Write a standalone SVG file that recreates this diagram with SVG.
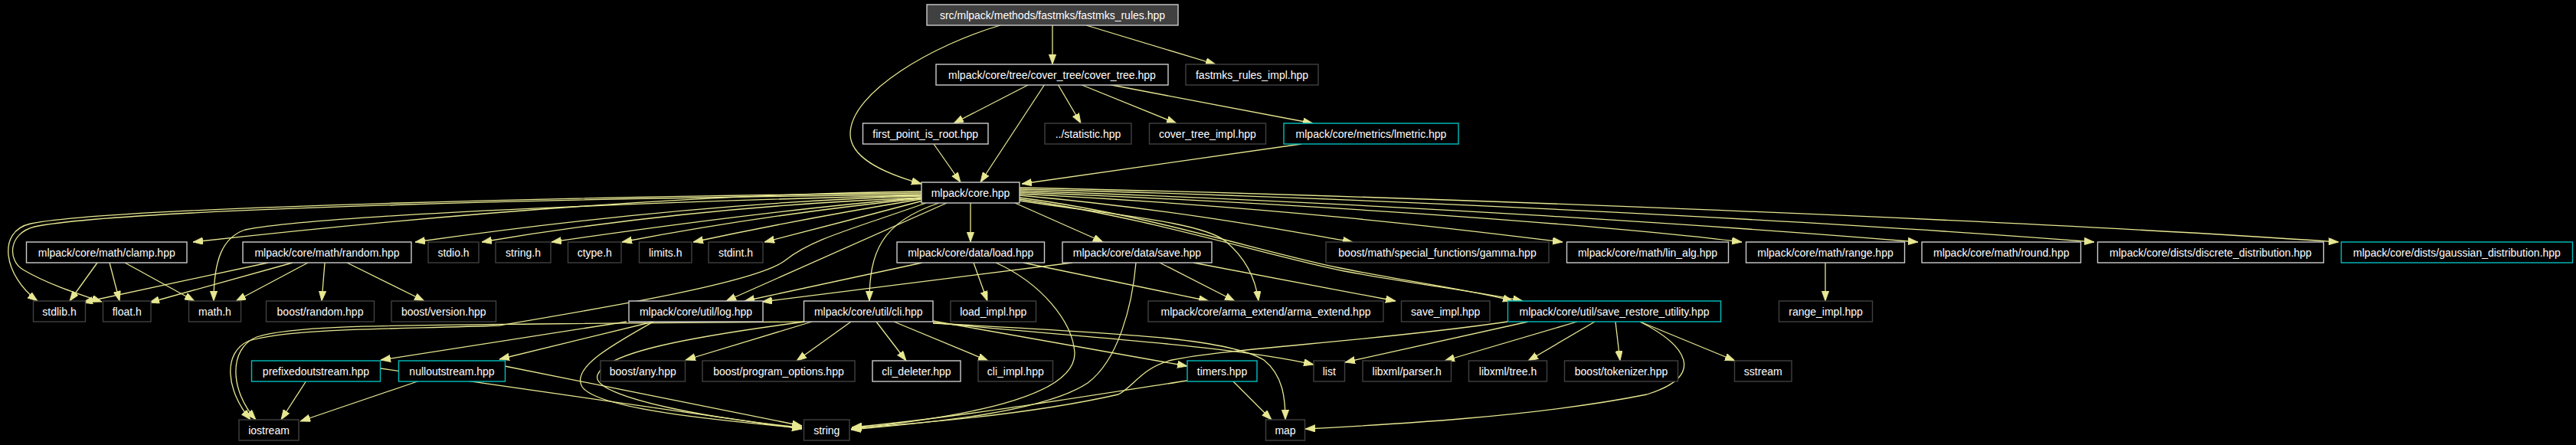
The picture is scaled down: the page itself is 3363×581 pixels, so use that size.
<svg xmlns="http://www.w3.org/2000/svg" width="3363" height="581" viewBox="0 0 3363 581">
<style>
.bg{fill:#000}
.n rect{fill:#000;stroke-width:1.4}
.lt rect{stroke:#cccccc}
.dk rect{stroke:#404040}
.cy rect{stroke:#00bfbf}
.rt rect{fill:#404040;stroke:#cccccc}
.n text{font-family:"Liberation Sans",Arial,sans-serif;font-size:14px;fill:#fff;text-anchor:middle}
#edges path{fill:none;stroke:#e7e792;stroke-width:1.3;marker-end:url(#ah)}
</style>
<defs>
<marker id="ah" markerUnits="userSpaceOnUse" markerWidth="14" markerHeight="10" refX="13" refY="4.7" orient="auto">
<path d="M0,0 L13,4.7 L0,9.4 z" fill="#e7e792" stroke="#e7e792" stroke-width="0.8"/>
</marker>
</defs>
<rect class="bg" x="0" y="0" width="3363" height="581"/>
<g id="edges">
<path d="M1374,33 L1374,84"/>
<path d="M1418,33 L1587,84"/>
<path d="M1306,33 C1220,58 1110,120 1110,175 C1110,205 1150,225 1203,240"/>
<path d="M1344,110 L1245,161"/>
<path d="M1364,110 L1280,238"/>
<path d="M1381,110 L1411,161"/>
<path d="M1410,110 L1536,161"/>
<path d="M1446,110 L1714,161"/>
<path d="M1219,188 L1254,238"/>
<path d="M1699,188 L1334,240"/>
<path d="M1267,265 L1267,316"/>
<path d="M1203,252 C800,256 150,270 40,292 C-5,302 5,360 49,393"/>
<path d="M1203,254 C800,258 160,272 45,296 C10,305 10,340 30,352 C60,370 100,383 133,394"/>
<path d="M1203,250 Q800,255 252,316"/>
<path d="M1203,256 Q900,265 542,316"/>
<path d="M1203,258 Q900,270 629,316"/>
<path d="M1203,255 C900,262 420,280 320,300 C290,310 279,340 279,393"/>
<path d="M1203,258 Q1000,275 720,316"/>
<path d="M1203,259 Q1000,280 812,316"/>
<path d="M1203,260 Q1050,285 905,316"/>
<path d="M1205,262 Q1100,290 998,316"/>
<path d="M1236,265 L948,393"/>
<path d="M1226,265 C1150,290 1135,330 1135,393"/>
<path d="M1209,265 C1110,300 1060,312 1025,340 C990,368 800,400 652,425 C520,430 380,428 325,445 C290,460 295,510 327,548"/>
<path d="M1325,265 L1440,316"/>
<path d="M1331,262 C1450,280 1570,290 1600,315 C1630,340 1640,370 1643,393"/>
<path d="M1331,258 C1500,280 1650,330 1750,350 C1850,370 1930,380 1975,393"/>
<path d="M1331,260 C1500,284 1655,334 1755,354 C1855,372 1935,382 1988,393"/>
<path d="M1331,255 C1550,275 1700,305 1766,316"/>
<path d="M1331,253 C1700,272 1950,305 2040,316"/>
<path d="M1331,251 C1800,270 2150,300 2274,316"/>
<path d="M1331,249 C1800,265 2250,295 2504,316"/>
<path d="M1331,247 C1800,258 2400,290 2734,316"/>
<path d="M1331,245 C1800,255 2600,285 3053,316"/>
<path d="M350,343 L108,395"/>
<path d="M382,343 L195,395"/>
<path d="M402,343 L308,393"/>
<path d="M424,343 L420,393"/>
<path d="M453,343 L554,393"/>
<path d="M127,343 L91,393"/>
<path d="M143,343 L156,393"/>
<path d="M163,343 L254,393"/>
<path d="M1204,343 L972,393"/>
<path d="M1271,343 L1289,393"/>
<path d="M1300,343 C1360,370 1400,420 1403,460 C1405,520 1250,545 1111,560"/>
<path d="M1336,343 L1578,393"/>
<path d="M1400,343 L995,394"/>
<path d="M1483,343 C1478,400 1460,470 1420,500 C1360,540 1200,553 1111,561"/>
<path d="M1514,343 L1612,393"/>
<path d="M1558,343 L1822,393"/>
<path d="M2383,343 L2383,393"/>
<path d="M1060,420 L895,470"/>
<path d="M1111,420 L1040,471"/>
<path d="M1144,420 L1183,471"/>
<path d="M1167,420 L1290,471"/>
<path d="M1218,419 L1550,478"/>
<path d="M1218,421 C1400,440 1600,450 1715,476"/>
<path d="M1218,422 C1450,435 1600,440 1650,470 C1675,490 1678,520 1678,548"/>
<path d="M1050,420 L700,423 C500,425 380,425 335,440 C298,455 300,510 334,548"/>
<path d="M818,420 L497,470"/>
<path d="M853,420 L652,469"/>
<path d="M853,420 C800,450 745,480 760,505 C780,535 950,550 1047,559"/>
<path d="M1051,420 C900,440 790,460 780,490 C770,520 950,550 1047,558"/>
<path d="M497,481 L1047,560"/>
<path d="M659,478 L1047,556"/>
<path d="M1550,497 C1400,520 1250,545 1112,558"/>
<path d="M1968,420 C1800,445 1600,455 1530,470 C1490,480 1480,505 1460,515 C1350,540 1200,553 1112,559"/>
<path d="M1609,497 L1660,548"/>
<path d="M2141,420 C2200,450 2230,490 2150,515 C2000,545 1800,555 1704,560"/>
<path d="M1995,420 L1756,473"/>
<path d="M2059,420 L1886,471"/>
<path d="M2082,420 L1995,471"/>
<path d="M2109,420 L2115,471"/>
<path d="M2141,420 L2265,471"/>
<path d="M400,497 L367,548"/>
<path d="M548,497 L392,550"/>
</g>
<g id="n_root" class="n rt"><rect x="1210" y="6" width="328" height="27"/><text x="1374" y="24.5">src/mlpack/methods/fastmks/fastmks_rules.hpp</text></g>
<g id="n_cover_tree" class="n lt"><rect x="1222" y="84" width="303" height="27"/><text x="1373.5" y="102.5">mlpack/core/tree/cover_tree/cover_tree.hpp</text></g>
<g id="n_fastmks_impl" class="n dk"><rect x="1548" y="84" width="173" height="27"/><text x="1634.5" y="102.5">fastmks_rules_impl.hpp</text></g>
<g id="n_first_point" class="n lt"><rect x="1126.5" y="161" width="163.5" height="27"/><text x="1208.25" y="179.5">first_point_is_root.hpp</text></g>
<g id="n_statistic" class="n dk"><rect x="1364" y="161" width="113" height="27"/><text x="1420.5" y="179.5">../statistic.hpp</text></g>
<g id="n_cover_tree_impl" class="n dk"><rect x="1500.5" y="161" width="152" height="27"/><text x="1576.5" y="179.5">cover_tree_impl.hpp</text></g>
<g id="n_lmetric" class="n cy"><rect x="1676" y="161" width="228" height="27"/><text x="1790" y="179.5">mlpack/core/metrics/lmetric.hpp</text></g>
<g id="n_core" class="n lt"><rect x="1203" y="238" width="128" height="27"/><text x="1267" y="256.5">mlpack/core.hpp</text></g>
<g id="n_clamp" class="n lt"><rect x="34.5" y="316" width="209.5" height="27"/><text x="139.25" y="334.5">mlpack/core/math/clamp.hpp</text></g>
<g id="n_random" class="n lt"><rect x="317" y="316" width="220" height="27"/><text x="427" y="334.5">mlpack/core/math/random.hpp</text></g>
<g id="n_stdio" class="n dk"><rect x="559" y="316" width="66" height="27"/><text x="592" y="334.5">stdio.h</text></g>
<g id="n_string_h" class="n dk"><rect x="647" y="316" width="72" height="27"/><text x="683" y="334.5">string.h</text></g>
<g id="n_ctype" class="n dk"><rect x="741.5" y="316" width="69.5" height="27"/><text x="776.25" y="334.5">ctype.h</text></g>
<g id="n_limits" class="n dk"><rect x="834.5" y="316" width="68.5" height="27"/><text x="868.75" y="334.5">limits.h</text></g>
<g id="n_stdint" class="n dk"><rect x="925" y="316" width="71" height="27"/><text x="960.5" y="334.5">stdint.h</text></g>
<g id="n_load" class="n lt"><rect x="1171" y="316" width="192.5" height="27"/><text x="1267.25" y="334.5">mlpack/core/data/load.hpp</text></g>
<g id="n_save" class="n lt"><rect x="1387" y="316" width="195" height="27"/><text x="1484.5" y="334.5">mlpack/core/data/save.hpp</text></g>
<g id="n_gamma" class="n dk"><rect x="1731" y="316" width="291" height="27"/><text x="1876.5" y="334.5">boost/math/special_functions/gamma.hpp</text></g>
<g id="n_lin_alg" class="n lt"><rect x="2045.5" y="316" width="211" height="27"/><text x="2151" y="334.5">mlpack/core/math/lin_alg.hpp</text></g>
<g id="n_range" class="n lt"><rect x="2279.5" y="316" width="207" height="27"/><text x="2383" y="334.5">mlpack/core/math/range.hpp</text></g>
<g id="n_round" class="n lt"><rect x="2509" y="316" width="207.5" height="27"/><text x="2612.75" y="334.5">mlpack/core/math/round.hpp</text></g>
<g id="n_discrete" class="n lt"><rect x="2738.5" y="316" width="295" height="27"/><text x="2886" y="334.5">mlpack/core/dists/discrete_distribution.hpp</text></g>
<g id="n_gaussian" class="n cy"><rect x="3056.5" y="316" width="302" height="27"/><text x="3207.5" y="334.5">mlpack/core/dists/gaussian_distribution.hpp</text></g>
<g id="n_stdlib" class="n dk"><rect x="43.5" y="393" width="68" height="27"/><text x="77.5" y="411.5">stdlib.h</text></g>
<g id="n_float" class="n dk"><rect x="134.5" y="393" width="62.5" height="27"/><text x="165.75" y="411.5">float.h</text></g>
<g id="n_math" class="n dk"><rect x="246.5" y="393" width="68" height="27"/><text x="280.5" y="411.5">math.h</text></g>
<g id="n_boost_random" class="n dk"><rect x="347.5" y="393" width="141" height="27"/><text x="418" y="411.5">boost/random.hpp</text></g>
<g id="n_boost_version" class="n dk"><rect x="511" y="393" width="136.5" height="27"/><text x="579.25" y="411.5">boost/version.hpp</text></g>
<g id="n_log" class="n lt"><rect x="821" y="393" width="175" height="27"/><text x="908.5" y="411.5">mlpack/core/util/log.hpp</text></g>
<g id="n_cli" class="n lt"><rect x="1049.5" y="393" width="168.5" height="27"/><text x="1133.75" y="411.5">mlpack/core/util/cli.hpp</text></g>
<g id="n_load_impl" class="n dk"><rect x="1241" y="393" width="111.5" height="27"/><text x="1296.75" y="411.5">load_impl.hpp</text></g>
<g id="n_arma_extend" class="n dk"><rect x="1499" y="393" width="307" height="27"/><text x="1652.5" y="411.5">mlpack/core/arma_extend/arma_extend.hpp</text></g>
<g id="n_save_impl" class="n dk"><rect x="1829.5" y="393" width="115.5" height="27"/><text x="1887.25" y="411.5">save_impl.hpp</text></g>
<g id="n_save_restore" class="n cy"><rect x="1968.5" y="393" width="278" height="27"/><text x="2107.5" y="411.5">mlpack/core/util/save_restore_utility.hpp</text></g>
<g id="n_range_impl" class="n dk"><rect x="2322.5" y="393" width="122" height="27"/><text x="2383.5" y="411.5">range_impl.hpp</text></g>
<g id="n_prefixed" class="n cy"><rect x="328.5" y="471" width="168" height="27"/><text x="412.5" y="489.5">prefixedoutstream.hpp</text></g>
<g id="n_null" class="n cy"><rect x="520.5" y="471" width="139" height="27"/><text x="590" y="489.5">nulloutstream.hpp</text></g>
<g id="n_boost_any" class="n dk"><rect x="784" y="471" width="110.5" height="27"/><text x="839.25" y="489.5">boost/any.hpp</text></g>
<g id="n_program_options" class="n dk"><rect x="917" y="471" width="199" height="27"/><text x="1016.5" y="489.5">boost/program_options.hpp</text></g>
<g id="n_cli_deleter" class="n lt"><rect x="1139" y="471" width="115" height="27"/><text x="1196.5" y="489.5">cli_deleter.hpp</text></g>
<g id="n_cli_impl" class="n dk"><rect x="1277" y="471" width="97.5" height="27"/><text x="1325.75" y="489.5">cli_impl.hpp</text></g>
<g id="n_timers" class="n cy"><rect x="1550" y="471" width="91" height="27"/><text x="1595.5" y="489.5">timers.hpp</text></g>
<g id="n_list" class="n dk"><rect x="1715" y="471" width="40.5" height="27"/><text x="1735.25" y="489.5">list</text></g>
<g id="n_parser" class="n dk"><rect x="1779" y="471" width="115.5" height="27"/><text x="1836.75" y="489.5">libxml/parser.h</text></g>
<g id="n_tree" class="n dk"><rect x="1917.5" y="471" width="102" height="27"/><text x="1968.5" y="489.5">libxml/tree.h</text></g>
<g id="n_tokenizer" class="n dk"><rect x="2042.5" y="471" width="148" height="27"/><text x="2116.5" y="489.5">boost/tokenizer.hpp</text></g>
<g id="n_sstream" class="n dk"><rect x="2264.5" y="471" width="74.5" height="27"/><text x="2301.75" y="489.5">sstream</text></g>
<g id="n_iostream" class="n dk"><rect x="312" y="548" width="78" height="27"/><text x="351" y="566.5">iostream</text></g>
<g id="n_string" class="n dk"><rect x="1049.5" y="548" width="59.5" height="27"/><text x="1079.25" y="566.5">string</text></g>
<g id="n_map" class="n dk"><rect x="1652.5" y="548" width="51" height="27"/><text x="1678" y="566.5">map</text></g>
</svg>
